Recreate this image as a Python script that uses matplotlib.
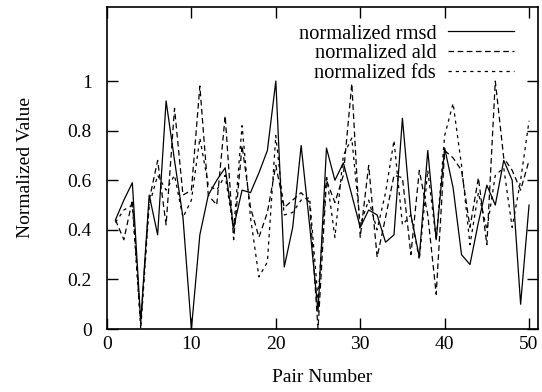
import numpy as np
import matplotlib.pyplot as plt

plt.rcParams['font.family'] = ['Liberation Serif', 'DejaVu Serif']

# Data (pair 1..50)
pairs = np.arange(1, 51)

rmsd = [0.44, 0.52, 0.59, 0.03, 0.54, 0.38, 0.92, 0.68, 0.45, 0.00,
        0.38, 0.54, 0.60, 0.65, 0.41, 0.56, 0.55, 0.63, 0.72, 1.00,
        0.25, 0.41, 0.74, 0.42, 0.07, 0.73, 0.60, 0.67, 0.54, 0.41,
        0.48, 0.46, 0.35, 0.38, 0.85, 0.46, 0.29, 0.72, 0.36, 0.73,
        0.57, 0.30, 0.26, 0.43, 0.58, 0.50, 0.68, 0.60, 0.10, 0.50]

ald = [0.44, 0.36, 0.52, 0.02, 0.52, 0.68, 0.42, 0.89, 0.54, 0.56,
       0.98, 0.54, 0.50, 0.86, 0.36, 0.74, 0.49, 0.37, 0.47, 0.66,
       0.49, 0.52, 0.55, 0.51, 0.00, 0.60, 0.51, 0.62, 0.99, 0.37,
       0.66, 0.29, 0.45, 0.62, 0.61, 0.30, 0.64, 0.46, 0.14, 0.72,
       0.69, 0.64, 0.41, 0.61, 0.34, 1.00, 0.69, 0.64, 0.56, 0.68]

fds = [0.43, 0.48, 0.50, 0.00, 0.50, 0.62, 0.56, 0.62, 0.45, 0.52,
       0.77, 0.58, 0.56, 0.62, 0.40, 0.82, 0.45, 0.21, 0.27, 0.78,
       0.46, 0.47, 0.52, 0.53, 0.12, 0.62, 0.37, 0.70, 0.77, 0.42,
       0.52, 0.40, 0.55, 0.76, 0.42, 0.46, 0.28, 0.64, 0.36, 0.78,
       0.91, 0.66, 0.34, 0.55, 0.40, 0.62, 0.65, 0.41, 0.60, 0.84]

xticks = [0, 10, 20, 30, 40, 50]
yticks = [0, 0.2, 0.4, 0.6, 0.8, 1]
ytick_labels = ['0', '0.2', '0.4', '0.6', '0.8', '1']

fig = plt.figure(figsize=(5.42, 3.92), dpi=100)
ax = fig.add_axes([107 / 542, 63 / 392, 430.5 / 542, 322.3 / 392])

ax.plot(pairs, rmsd, color='black', linewidth=0.9, label='normalized rmsd')
ax.plot(pairs, ald, color='black', linewidth=0.9, dashes=(4.5, 2.8),
        label='normalized ald')
ax.plot(pairs, fds, color='black', linewidth=0.9, dashes=(2.6, 3.2),
        label='normalized fds')

ax.set_xlim(0, 51)
ax.set_ylim(0, 1.3)
ax.set_xticks(xticks)
ax.set_yticks(yticks)
ax.set_yticklabels(ytick_labels)

ax.tick_params(direction='in', top=True, right=True, length=8, width=1,
               labelsize=14, colors='black')
ax.tick_params(axis='x', pad=5)
ax.tick_params(axis='y', pad=11)
for s in ax.spines.values():
    s.set_linewidth(1.2)

ax.set_xlabel('Pair Number', fontsize=14)
ax.set_ylabel('Normalized Value', fontsize=14)
ax.xaxis.set_label_coords(0.5, -0.125)
ax.yaxis.set_label_coords(-0.17, 0.5)

ax.legend(loc='upper right', bbox_to_anchor=(0.978, 0.99), frameon=False,
          markerfirst=False, fontsize=14.7, handlelength=3.2,
          handletextpad=0.6, labelspacing=0.02, borderpad=0.2)

plt.savefig('out.png', dpi=100)
